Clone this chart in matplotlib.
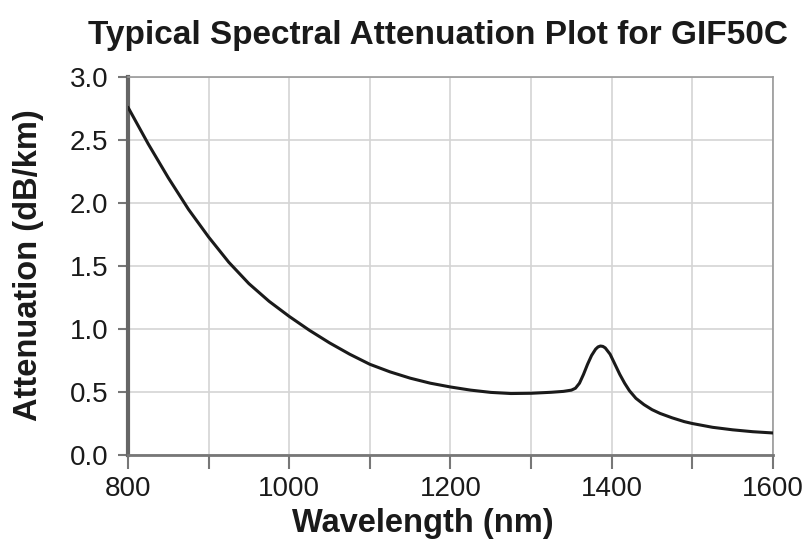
import numpy as np
import matplotlib.pyplot as plt

# valores
longitud_onda = [800, 825, 850, 875, 900, 925, 950, 975, 1000, 1025, 1050, 1075,
                 1100, 1125, 1150, 1175, 1200, 1225, 1250, 1275, 1300, 1325,
                 1340, 1350, 1355, 1360, 1365, 1370, 1375, 1380, 1383, 1386,
                 1389, 1392, 1398, 1404, 1410, 1416, 1422, 1430, 1440, 1450,
                 1460, 1475, 1490, 1500, 1525, 1550, 1575, 1600]
atenuacion = [2.76, 2.47, 2.20, 1.95, 1.73, 1.53, 1.36, 1.22, 1.10, 0.99, 0.89,
              0.80, 0.72, 0.66, 0.61, 0.57, 0.54, 0.515, 0.497, 0.488, 0.490,
              0.498, 0.505, 0.515, 0.53, 0.57, 0.64, 0.72, 0.79, 0.84, 0.858,
              0.865, 0.862, 0.85, 0.80, 0.72, 0.64, 0.57, 0.51, 0.45, 0.40,
              0.36, 0.33, 0.295, 0.265, 0.25, 0.22, 0.20, 0.185, 0.175]

ticks_x = [800, 1000, 1200, 1400, 1600]
ticks_y = [0.0, 0.5, 1.0, 1.5, 2.0, 2.5, 3.0]


def main():
    plt.rcParams['font.family'] = ['Liberation Sans', 'DejaVu Sans']
    fig = plt.figure(figsize=(8.03, 5.45), dpi=100)
    ax = fig.add_axes([0.1594, 0.1651, 0.8032, 0.6936])

    ax.plot(longitud_onda, atenuacion, color="#1a1a1a", linewidth=2.2,
            solid_capstyle="round", solid_joinstyle="round", zorder=3)

    ax.set_xlim(800, 1600)
    ax.set_ylim(0, 3.0)
    ax.set_xticks(ticks_x)
    ax.set_xticks(np.arange(900, 1600, 200), minor=True)
    ax.set_yticks(ticks_y)
    ax.set_yticklabels([f"{v:.1f}" for v in ticks_y])

    ax.grid(True, which="both", color="#d4d4d4", linewidth=1.2)
    ax.set_axisbelow(True)

    for lado in ["top", "right"]:
        ax.spines[lado].set_color("#999999")
        ax.spines[lado].set_linewidth(1.2)
    ax.spines["left"].set_color("#666666")
    ax.spines["left"].set_linewidth(3)
    ax.spines["bottom"].set_color("#777777")
    ax.spines["bottom"].set_linewidth(2)

    ax.tick_params(axis="x", which="both", length=10, width=1.5,
                   color="#777777", labelsize=20, labelcolor="#1a1a1a", pad=5)
    ax.tick_params(axis="y", length=7, width=1.5, color="#777777",
                   labelsize=20, labelcolor="#1a1a1a", pad=7)

    ax.set_xlabel("Wavelength (nm)", fontsize=23.5, fontweight="bold",
                  color="#1a1a1a")
    ax.xaxis.set_label_coords(0.457, -0.14)
    ax.set_ylabel("Attenuation (dB/km)", fontsize=23.5, fontweight="bold",
                  color="#1a1a1a")
    ax.yaxis.set_label_coords(-0.13, 0.503)

    fig.text(0.545, 1 - 35 / 545, "Typical Spectral Attenuation Plot for GIF50C",
             fontsize=24, fontweight="bold", color="#1a1a1a",
             ha="center", va="center")

    fig.savefig("out.png", dpi=100)


if __name__ == "__main__":
    main()
